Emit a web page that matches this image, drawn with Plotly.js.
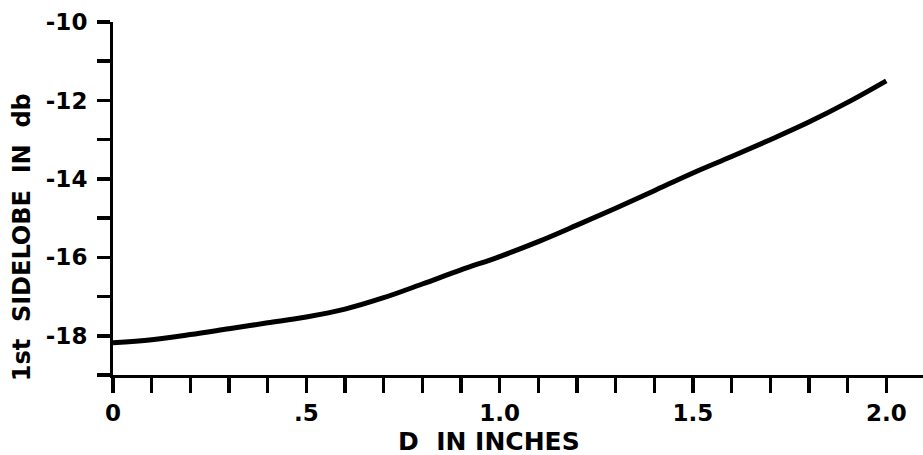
<!DOCTYPE html>
<html>
<head>
<meta charset="utf-8">
<script src="https://cdn.plot.ly/plotly-3.0.1.min.js"></script>
<style>
html,body{margin:0;padding:0;background:#fff;}
#chart{width:923px;height:455px;}
</style>
</head>
<body>
<div id="chart"></div>
<script>
const dInches = [0, 0.1, 0.2, 0.3, 0.4, 0.5, 0.6, 0.7, 0.8, 0.9, 1.0, 1.1, 1.2, 1.3, 1.4, 1.5, 1.6, 1.7, 1.8, 1.9, 2.0];
const sidelobeDb = [-18.18, -18.1, -17.97, -17.82, -17.67, -17.52, -17.32, -17.03, -16.68, -16.32, -15.98, -15.6, -15.18, -14.75, -14.3, -13.85, -13.43, -13.0, -12.55, -12.05, -11.5];

const xTickVals = [0, 0.1, 0.2, 0.3, 0.4, 0.5, 0.6, 0.7, 0.8, 0.9, 1.0, 1.1, 1.2, 1.3, 1.4, 1.5, 1.6, 1.7, 1.8, 1.9, 2.0];
const xTickText = ['0', '', '', '', '', '.5', '', '', '', '', '1.0', '', '', '', '', '1.5', '', '', '', '', '2.0'];
const yTickVals = [-19, -18, -17, -16, -15, -14, -13, -12, -11, -10];
const yTickText = ['', '-18', '', '-16', '', '-14', '', '-12', '', '-10'];

const fontFam = '"DejaVu Sans", sans-serif';

const trace = {
  x: dInches,
  y: sidelobeDb,
  type: 'scatter',
  mode: 'lines',
  line: {color: '#000', width: 5, shape: 'spline'},
  hoverinfo: 'skip'
};

const layout = {
  width: 923,
  height: 455,
  margin: {l: 113, r: 0, t: 22, b: 80},
  paper_bgcolor: '#fff',
  plot_bgcolor: '#fff',
  showlegend: false,
  font: {family: fontFam, color: '#000', size: 23, weight: 'bold'},
  xaxis: {
    range: [0, 2.095],
    tickmode: 'array',
    tickvals: xTickVals,
    ticktext: xTickText,
    ticks: 'outside',
    ticklen: 15,
    tickwidth: 3.5,
    tickcolor: '#000',
    showline: true,
    linecolor: '#000',
    linewidth: 3,
    showgrid: false,
    zeroline: false,
    tickfont: {family: fontFam, size: 23, color: '#000', weight: 'bold'}
  },
  yaxis: {
    range: [-19, -10],
    tickmode: 'array',
    tickvals: yTickVals,
    ticktext: yTickText,
    ticks: 'outside',
    ticklen: 13,
    tickwidth: 3.5,
    tickcolor: '#000',
    showline: true,
    linecolor: '#000',
    linewidth: 3,
    showgrid: false,
    zeroline: false,
    ticklabelstandoff: 5,
    tickfont: {family: fontFam, size: 23, color: '#000', weight: 'bold'}
  },
  annotations: [
    {
      text: 'D  IN INCHES',
      xref: 'paper', yref: 'paper',
      x: (489 - 113) / 810, y: -0.188,
      xanchor: 'center', yanchor: 'middle',
      showarrow: false,
      font: {family: fontFam, size: 25, color: '#000', weight: 'bold'}
    },
    {
      text: '1st  SIDELOBE  IN  db',
      xref: 'paper', yref: 'paper',
      x: -0.112, y: (375 - 237) / 353,
      xanchor: 'center', yanchor: 'middle',
      textangle: -90,
      showarrow: false,
      font: {family: fontFam, size: 24, color: '#000', weight: 'bold'}
    }
  ]
};

Plotly.newPlot('chart', [trace], layout, {staticPlot: true, displayModeBar: false});
</script>
</body>
</html>
